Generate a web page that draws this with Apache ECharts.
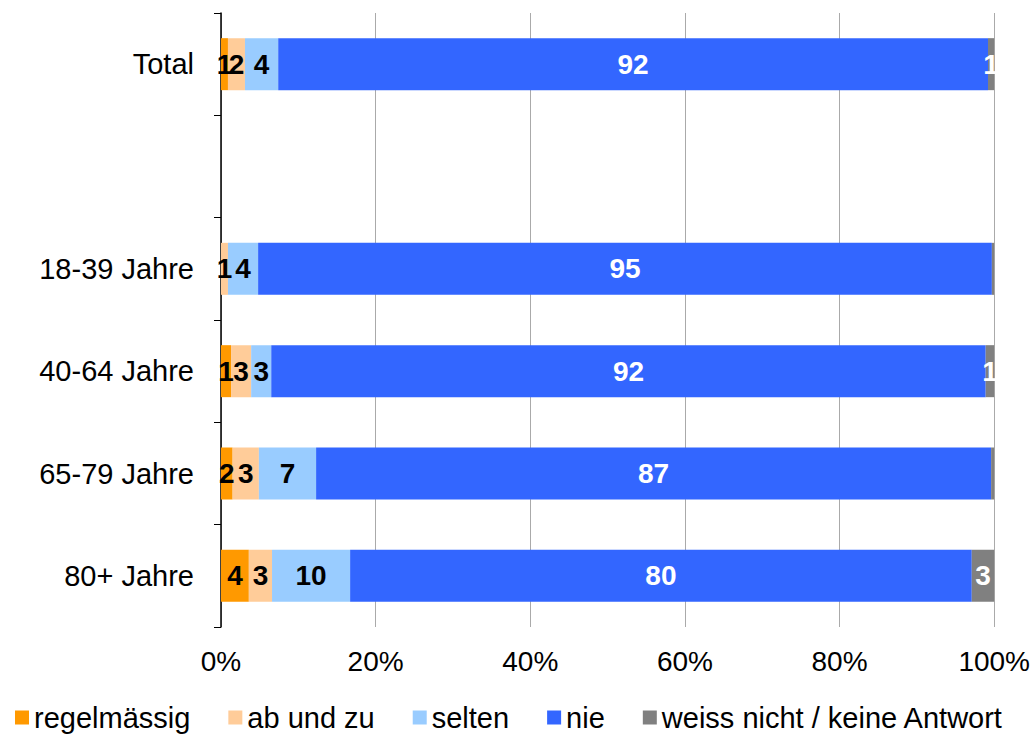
<!DOCTYPE html>
<html>
<head>
<meta charset="utf-8">
<script src="https://cdn.jsdelivr.net/npm/echarts@6/dist/echarts.min.js"></script>
<style>
  html, body { margin: 0; padding: 0; background: #fff; }
  #chart { width: 1033px; height: 735px; }
</style>
</head>
<body>
<div id="chart"></div>
<script>
// categories, top to bottom (one empty slot between Total and the age groups)
const categories = ['Total', '', '18-39 Jahre', '40-64 Jahre', '65-79 Jahre', '80+ Jahre'];

// shares in %
const regelmaessig = [0.9, null, 0, 1.3, 1.5, 3.6];
const abUndZu      = [2.2, null, 0.9, 2.6, 3.4, 3.0];
const selten       = [4.3, null, 3.9, 2.6, 7.4, 10.1];
const nie          = [91.8, null, 94.9, 92.4, 87.3, 80.4];
const weissNicht   = [0.8, null, 0.3, 1.1, 0.4, 2.9];

const xTicks = [0, 20, 40, 60, 80, 100];

const chart = echarts.init(document.getElementById('chart'), null, { renderer: 'svg' });

const font = 'Liberation Sans, Arial, sans-serif';

function makeSeries(name, data, color, labelColor) {
  return {
    name: name,
    type: 'bar',
    stack: 'all',
    data: data,
    barWidth: 52,
    itemStyle: { color: color },
    label: {
      show: true,
      position: 'inside',
      color: labelColor,
      fontFamily: font,
      fontWeight: 'bold',
      fontSize: 28,
      formatter: function (p) {
        if (p.value == null || p.value < 0.5) return '';
        return Math.round(p.value);
      }
    },
    emphasis: { disabled: true }
  };
}

chart.setOption({
  animation: false,
  grid: { left: 221, right: 38, top: 13, bottom: 108 },
  legend: {
    bottom: -2,
    left: 10,
    itemWidth: 14,
    itemHeight: 14,
    itemGap: 38,
    icon: 'rect',
    textStyle: { fontFamily: font, fontSize: 29, color: '#000' },
    data: ['regelmässig', 'ab und zu', 'selten', 'nie', 'weiss nicht / keine Antwort']
  },
  xAxis: {
    type: 'value',
    min: 0,
    max: 100,
    interval: 20,
    axisLine: { show: false },
    axisTick: { show: false },
    splitLine: { lineStyle: { color: '#aaaaaa', width: 1 } },
    axisLabel: {
      fontFamily: font,
      fontSize: 28,
      color: '#000',
      margin: 20,
      formatter: function (v) { return xTicks.indexOf(v) >= 0 ? v + '%' : ''; }
    }
  },
  yAxis: {
    type: 'category',
    inverse: true,
    data: categories,
    axisLine: { show: true, lineStyle: { color: '#000', width: 1.5 } },
    axisTick: { show: true, length: 7, lineStyle: { color: '#000' } },
    axisLabel: { fontFamily: font, fontSize: 29, color: '#000', margin: 27 }
  },
  series: [
    makeSeries('regelmässig', regelmaessig, '#FF9900', '#000'),
    makeSeries('ab und zu', abUndZu, '#FFCC99', '#000'),
    makeSeries('selten', selten, '#99CCFF', '#000'),
    makeSeries('nie', nie, '#3366FF', '#fff'),
    makeSeries('weiss nicht / keine Antwort', weissNicht, '#808080', '#fff')
  ]
});
</script>
</body>
</html>
